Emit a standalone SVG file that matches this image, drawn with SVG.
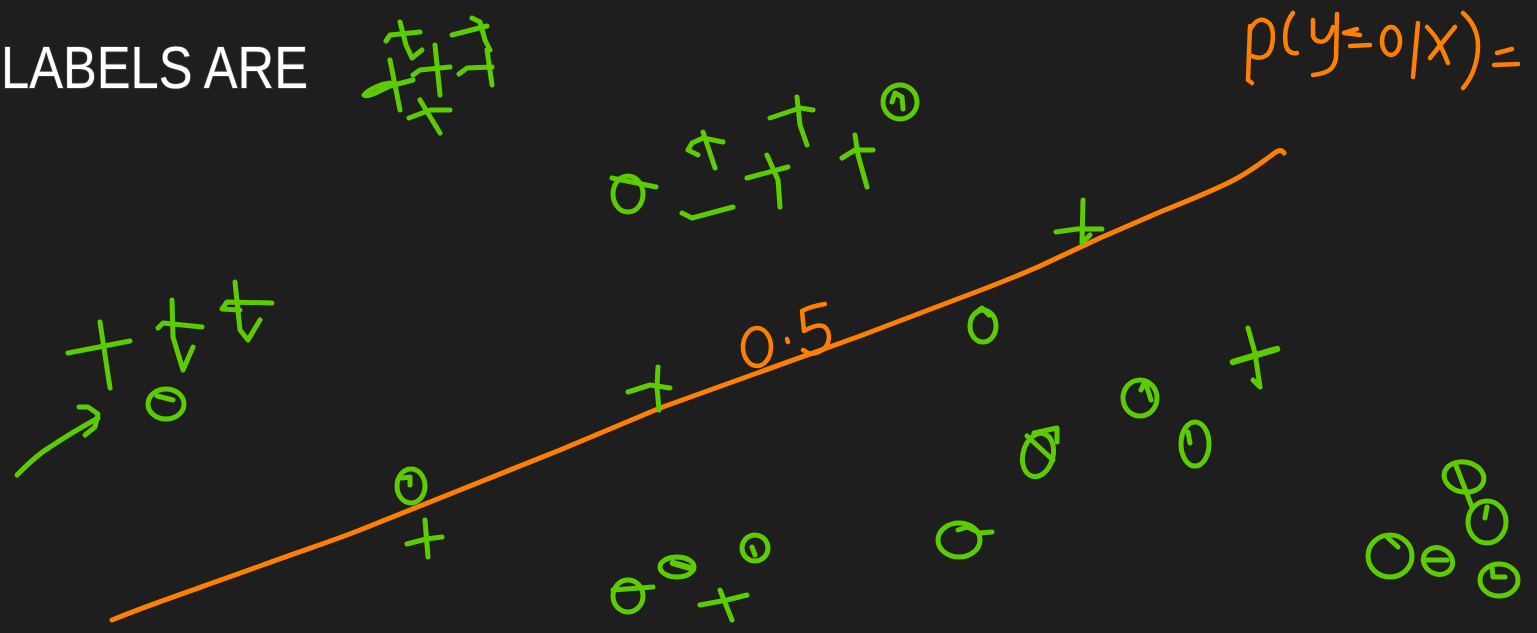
<svg xmlns="http://www.w3.org/2000/svg" width="1537" height="633" viewBox="0 0 1537 633">
<style>
.g{fill:none;stroke:#5ccc00;stroke-width:5;stroke-linecap:round;stroke-linejoin:round}
.o{fill:none;stroke:#ff8000;stroke-width:4.5;stroke-linecap:round;stroke-linejoin:round}
.line{fill:none;stroke:#ff8000;stroke-width:5;stroke-linecap:round;stroke-linejoin:round}
.title{font-family:"Liberation Sans","DejaVu Sans",sans-serif;font-size:60px;fill:#ffffff;stroke:#3a3a3a;stroke-width:2;paint-order:stroke}
</style>
<rect width="1537" height="633" fill="#1e1e1e"/>
<text class="title" x="1" y="88" textLength="307" lengthAdjust="spacingAndGlyphs">LABELS ARE</text>

<g id="boundary">
<path class="line" d="M112,620 C150,604 200,588 260,566 C300,551 330,542 360,530 L460,490 L560,450 L660,408 L760,372 L860,336 L960,298 C990,287 1015,277 1040,266 L1100,238 L1160,212 C1190,200 1210,192 1230,182 C1250,172 1262,162 1272,155 C1278,150 1281,149 1284,153"/>
</g>

<g id="label-05">
<ellipse class="o" cx="757" cy="347" rx="14" ry="19"/>
<path class="o" d="M787,339 L788,342"/>
<path class="o" d="M825,304 Q812,306 802,311 L804,331 Q827,318 829,336 Q829,352 810,354 L803,350"/>
</g>

<g id="formula">
<path class="o" d="M1250,26 L1248,80 L1252,83"/>
<path class="o" d="M1250,30 C1255,20 1262,16 1270,24 C1275,32 1273,48 1268,54 C1263,59 1256,58 1252,56"/>
<path class="o" d="M1293,13 C1286,22 1284,34 1286,46 C1288,52 1292,54 1297,53"/>
<path class="o" d="M1313,20 L1313,36 C1315,42 1322,43 1326,40 C1330,36 1332,31 1333,27"/>
<path class="o" d="M1337,14 L1336,58 C1334,68 1330,73 1313,75"/>
<path class="o" d="M1357,29 L1344,33 L1360,35"/>
<path class="o" d="M1350,46 L1370,45"/>
<ellipse class="o" cx="1391" cy="41" rx="9" ry="14"/>
<path class="o" d="M1418,23 L1413,77"/>
<path class="o" d="M1427,27 C1433,33 1438,40 1441,47 C1444,53 1446,58 1448,63"/>
<path class="o" d="M1455,27 L1442,43 L1430,58"/>
<path class="o" d="M1463,13 C1473,22 1478,32 1478,46 C1478,62 1472,78 1463,88"/>
<path class="o" d="M1497,53 L1512,49"/>
<path class="o" d="M1494,65 L1518,64"/>
</g>

<g id="cluster-topleft">
<path class="g" d="M400,22 L406,45 L412,58 L422,50"/>
<path class="g" d="M386,41 L390,35 L420,32"/>
<path class="g" d="M452,35 L487,26"/>
<path class="g" d="M472,18 L480,22 L485,40 L490,50"/>
<path class="g" d="M459,74 L467,68 L492,67"/>
<path class="g" d="M487,50 L492,85"/>
<path class="g" d="M413,75 L420,70 L450,67"/>
<path class="g" d="M435,45 L440,95"/>
<path class="g" d="M390,60 L400,110"/>
<path class="g" d="M390,83 C380,84 368,90 364,95 C366,98 378,92 390,86 L413,80"/>
<path class="g" d="M409,118 L430,110 L450,110"/>
<path class="g" d="M420,100 L440,133"/>
</g>

<g id="cluster-topmid">
<ellipse class="g" cx="628" cy="194" rx="15" ry="18"/>
<path class="g" d="M612,178 L656,187"/>
<path class="g" d="M703,132 L715,168"/>
<path class="g" d="M698,155 L688,150 L692,143 L703,138 L723,142"/>
<path class="g" d="M682,213 L692,218 L733,207"/>
<path class="g" d="M747,178 L788,167"/>
<path class="g" d="M767,155 L778,180 L780,207"/>
<path class="g" d="M770,118 L800,108 L813,110"/>
<path class="g" d="M797,97 L800,125 L807,145"/>
<path class="g" d="M842,158 L855,150 L873,150"/>
<path class="g" d="M855,135 L858,155 L867,187"/>
<ellipse class="g" cx="900" cy="102" rx="17" ry="17"/>
<path class="g" d="M892,102 L895,93 L902,97 L903,109"/>
</g>

<g id="cluster-left">
<path class="g" d="M68,353 L130,341"/>
<path class="g" d="M100,322 L110,388"/>
<path class="g" d="M172,300 L173,337 L183,370 L193,347"/>
<path class="g" d="M158,328 L163,323 L202,327"/>
<path class="g" d="M235,282 L240,330 L248,340 L260,320"/>
<path class="g" d="M240,310 L222,309 L227,302 L272,303"/>
<ellipse class="g" cx="166" cy="404" rx="18" ry="15"/>
<path class="g" d="M157,396 L173,400"/>
<path class="g" d="M17,475 L20,472 C30,462 40,453 50,447 C65,437 80,428 98,418"/>
<path class="g" d="M79,407 L88,407 L98,414 L95,427 L85,435"/>
</g>

<g id="cluster-line">
<path class="g" d="M628,392 L650,385 L670,388"/>
<path class="g" d="M658,367 L657,387 L659,410"/>
<ellipse class="g" cx="983" cy="326" rx="13" ry="16"/>
<path class="g" d="M976,313 L982,308 L989,315"/>
<path class="g" d="M1056,232 L1077,229 L1102,229"/>
<path class="g" d="M1083,200 L1082,243 L1090,235"/>
<ellipse class="g" cx="411" cy="486" rx="14" ry="17"/>
<path class="g" d="M402,478 L410,477 L410,485"/>
<path class="g" d="M407,544 L426,539 L442,537"/>
<path class="g" d="M425,520 L428,557"/>
</g>

<g id="cluster-right">
<ellipse class="g" cx="1038" cy="455" rx="15" ry="22" transform="rotate(15 1038 455)"/>
<path class="g" d="M1027,436 L1053,460"/>
<path class="g" d="M1034,433 L1057,428 L1057,442"/>
<ellipse class="g" cx="1140" cy="398" rx="17" ry="18"/>
<path class="g" d="M1141,390 L1145,381 L1151,400"/>
<ellipse class="g" cx="1195" cy="444" rx="14" ry="22"/>
<path class="g" d="M1188,432 L1190,443"/>
<path class="g" d="M1233,362 L1277,349" style="stroke-width:6.5"/>
<path class="g" d="M1248,328 L1255,353 L1260,387 L1253,380"/>
<ellipse class="g" cx="959" cy="540" rx="21" ry="17"/>
<path class="g" d="M958,530 L967,527 L980,533 L992,532"/>
</g>

<g id="cluster-bottom">
<ellipse class="g" cx="628" cy="596" rx="15" ry="16"/>
<path class="g" d="M613,590 L653,587"/>
<ellipse class="g" cx="677" cy="567" rx="17" ry="10"/>
<path class="g" d="M673,563 L690,568" style="stroke-width:6.5"/>
<ellipse class="g" cx="755" cy="548" rx="13" ry="13"/>
<path class="g" d="M752,547 L755,555"/>
<path class="g" d="M700,605 L727,600 L747,595"/>
<path class="g" d="M720,590 L732,620"/>
</g>

<g id="cluster-corner">
<ellipse class="g" cx="1464" cy="477" rx="20" ry="15" transform="rotate(10 1464 477)"/>
<path class="g" d="M1455,463 L1472,507"/>
<ellipse class="g" cx="1487" cy="522" rx="19" ry="21"/>
<path class="g" d="M1487,507 L1485,518"/>
<ellipse class="g" cx="1390" cy="556" rx="22" ry="21"/>
<path class="g" d="M1387,537 L1398,547"/>
<ellipse class="g" cx="1438" cy="561" rx="15" ry="13" transform="rotate(25 1438 561)"/>
<path class="g" d="M1427,560 L1447,560"/>
<ellipse class="g" cx="1499" cy="580" rx="19" ry="16"/>
<path class="g" d="M1492,567 L1493,577 L1505,577"/>
</g>
</svg>
